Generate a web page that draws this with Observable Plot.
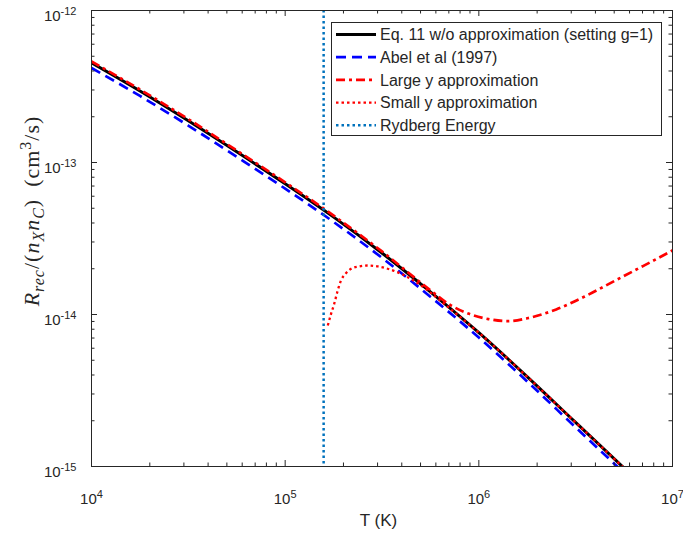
<!DOCTYPE html>
<html><head><meta charset="utf-8">
<script src="https://cdn.jsdelivr.net/npm/d3@7"></script>
<script src="https://cdn.jsdelivr.net/npm/@observablehq/plot@0.6"></script>
<style>body{margin:0;background:#fff} #chart{width:683px;height:536px}</style>
</head><body><div id="chart"></div><script>
// ---- data ----
const seriesNames = ["Eq. 11 w/o approximation (setting g=1)", "Abel et al (1997)", "Large y approximation", "Small y approximation", "Rydberg Energy"];
const xTicks = [1e4, 1e5, 1e6, 1e7];
const yTicks = [1e-15, 1e-14, 1e-13, 1e-12];

const T_exact = [1e4, 1.78e4, 3.16e4, 5.62e4, 1e5, 1.78e5, 3.16e5, 5.62e5, 1e6, 1.78e6, 3.16e6, 5.62e6];
const R_exact = [4.52e-13, 2.95e-13, 1.88e-13, 1.175e-13, 7.24e-14, 4.37e-14, 2.54e-14, 1.41e-14, 7.59e-15, 3.89e-15, 1.95e-15, 9.77e-16];

const T_abel = [1e4, 1.78e4, 3.16e4, 5.62e4, 1e5, 1.78e5, 3.16e5, 5.62e5, 1e6, 1.78e6, 3.16e6, 5.62e6];
const R_abel = [4.19e-13, 2.74e-13, 1.75e-13, 1.09e-13, 6.73e-14, 4.06e-14, 2.36e-14, 1.31e-14, 7.05e-15, 3.62e-15, 1.81e-15, 9.08e-16];

const T_large = [1e4, 1.78e4, 3.16e4, 5.62e4, 1e5, 1.78e5, 3.16e5, 5.62e5, 7.08e5, 8.91e5, 1.12e6, 1.41e6, 1.78e6, 2.51e6, 3.55e6, 5.01e6, 7.08e6, 1e7];
const R_large = [4.62e-13, 3.02e-13, 1.93e-13, 1.20e-13, 7.41e-14, 4.47e-14, 2.60e-14, 1.445e-14, 1.16e-14, 1.01e-14, 9.33e-15, 9.04e-15, 9.44e-15, 1.08e-14, 1.32e-14, 1.66e-14, 2.09e-14, 2.64e-14];

const T_small = [1.66e5, 1.73e5, 1.79e5, 1.86e5, 1.94e5, 2.04e5, 2.19e5, 2.40e5, 2.67e5, 3.02e5, 3.38e5, 4.30e5, 5.45e5, 6.65e5, 1e6, 1.78e6, 3.16e6, 5.62e6];
const R_small = [8.47e-15, 1.02e-14, 1.17e-14, 1.41e-14, 1.67e-14, 1.84e-14, 2.0e-14, 2.07e-14, 2.10e-14, 2.07e-14, 2.0e-14, 1.76e-14, 1.44e-14, 1.17e-14, 7.59e-15, 3.89e-15, 1.95e-15, 9.77e-16];

const T_rydberg = 1.58e5;

// ---- layout ----
const W = 683, H = 536, mL = 91, mR = 11, mT = 10, mB = 70;
const iw = W - mL - mR, ih = H - mT - mB;
const axisColor = "#262626";
const rows = (T, R) => T.map((t, i) => ({T: t, R: R[i]}));
const minor = (lo, hi) => { const a = []; for (let e = lo; e < hi; e++) for (let m = 2; m <= 9; m++) a.push(m * Math.pow(10, e)); return a; };
const xMinor = minor(4, 7), yMinor = minor(-15, -12);
const fmt = d => "10^" + Math.round(Math.log10(d));

const styles = [
  {stroke: "#000000", strokeWidth: 3},
  {stroke: "#0000FF", strokeWidth: 2.7, strokeDasharray: "10,6", strokeLinecap: "butt"},
  {stroke: "#FF0000", strokeWidth: 2.7, strokeDasharray: "9,4,3,4", strokeLinecap: "butt"},
  {stroke: "#FF0000", strokeWidth: 2.3, strokeDasharray: "2.5,3", strokeLinecap: "butt"},
  {stroke: "#0072BD", strokeWidth: 2.5, strokeDasharray: "2.5,3", strokeLinecap: "butt"}
];

const plot = Plot.plot({
  width: W, height: H, marginLeft: mL, marginRight: mR, marginTop: mT, marginBottom: mB,
  style: {fontFamily: "'Liberation Sans', Arial, sans-serif", color: axisColor, background: "#fff", overflow: "visible"},
  x: {type: "log", domain: [1e4, 1e7]},
  y: {type: "log", domain: [1e-15, 1e-12]},
  marks: [
    Plot.line(rows(T_exact, R_exact), {x: "T", y: "R", curve: "monotone-x", clip: true, ...styles[0]}),
    Plot.line(rows(T_abel, R_abel), {x: "T", y: "R", curve: "monotone-x", clip: true, ...styles[1]}),
    Plot.line(rows(T_large, R_large), {x: "T", y: "R", curve: "monotone-x", clip: true, ...styles[2]}),
    Plot.line(rows(T_small, R_small), {x: "T", y: "R", curve: "monotone-x", clip: true, ...styles[3]}),
    Plot.ruleX([T_rydberg], {...styles[4]}),
    // inward ticks on all four sides
    Plot.tickX(xMinor, {x: d => d, insetTop: ih - 3.5, stroke: axisColor}),
    Plot.tickX(xMinor, {x: d => d, insetBottom: ih - 3.5, stroke: axisColor}),
    Plot.tickX(xTicks, {x: d => d, insetTop: ih - 6, stroke: axisColor}),
    Plot.tickX(xTicks, {x: d => d, insetBottom: ih - 6, stroke: axisColor}),
    Plot.tickY(yMinor, {y: d => d, insetRight: iw - 3.5, stroke: axisColor}),
    Plot.tickY(yMinor, {y: d => d, insetLeft: iw - 3.5, stroke: axisColor}),
    Plot.tickY(yTicks, {y: d => d, insetRight: iw - 6, stroke: axisColor}),
    Plot.tickY(yTicks, {y: d => d, insetLeft: iw - 6, stroke: axisColor}),
    Plot.frame({stroke: axisColor, strokeWidth: 1}),
    Plot.axisX(xTicks, {tickSize: 0, tickPadding: 16, tickFormat: fmt, label: null}),
    Plot.axisY(yTicks, {tickSize: 0, tickPadding: 15, tickFormat: fmt, label: null})
  ]
});
document.getElementById("chart").appendChild(plot);

const svg = d3.select(plot);
// superscript exponents in tick labels
svg.selectAll('g[aria-label="x-axis tick label"], g[aria-label="y-axis tick label"]')
  .style("font-size", "15px").attr("font-size", 15);
svg.selectAll('g[aria-label="x-axis tick label"] text, g[aria-label="y-axis tick label"] text').each(function () {
  const parts = this.textContent.split("^");
  const t = d3.select(this);
  t.text(null).style("font-size", "15px").attr("fill", axisColor);
  t.append("tspan").style("font-size", "15px").text(parts[0]);
  t.append("tspan").attr("dy", -6).style("font-size", "11px").text(parts[1]);
});
svg.selectAll('g[aria-label="y-axis tick label"] text').attr("dy", "0.38em");
svg.selectAll('g[aria-label="x-axis tick label"] text').attr("dy", "0.71em");

// x label
svg.append("text").attr("x", mL + iw / 2 - 3).attr("y", 526).attr("text-anchor", "middle")
  .style("font-size", "17px").attr("fill", axisColor).text("T (K)");

// y label (math-style)
const yl = svg.append("text").attr("transform", "translate(39,211) rotate(-90)")
  .attr("text-anchor", "middle").attr("fill", axisColor)
  .attr("font-family", "'Liberation Serif','DejaVu Serif',serif").style("font-size", "22px")
  .style("letter-spacing", "1px");
const parts = [
  ["R", 0, true, null], ["rec", 5, true, "16px"], ["/(", -5, false, null],
  ["n", 0, true, null], ["X", 5, true, "16px"], ["n", -5, true, null], ["C", 5, true, "16px"],
  [")\u2002(cm", -5, false, null], ["3", -8, false, "16px"], ["/s)", 8, false, null]
];
parts.forEach(([s, dy, it, fs]) => {
  const sp = yl.append("tspan").text(s);
  if (dy) sp.attr("dy", dy);
  if (it) sp.attr("font-style", "italic");
  if (fs) sp.style("font-size", fs);
});

// legend
const lg = svg.append("g").attr("text-anchor", "start");
lg.append("rect").attr("x", 331.5).attr("y", 22.5).attr("width", 330).attr("height", 113)
  .attr("fill", "#fff").attr("stroke", axisColor).attr("stroke-width", 1);
seriesNames.forEach((name, i) => {
  const y = 34.5 + i * 22.7, s = styles[i];
  lg.append("line").attr("x1", 336).attr("x2", 376).attr("y1", y).attr("y2", y)
    .attr("stroke", s.stroke).attr("stroke-width", s.strokeWidth)
    .attr("stroke-dasharray", s.strokeDasharray || null).attr("stroke-linecap", "butt");
  lg.append("text").attr("x", 380).attr("y", y).attr("dy", "0.35em").attr("text-anchor", "start")
    .style("font-size", "16px").attr("fill", axisColor).text(name);
});
</script></body></html>
